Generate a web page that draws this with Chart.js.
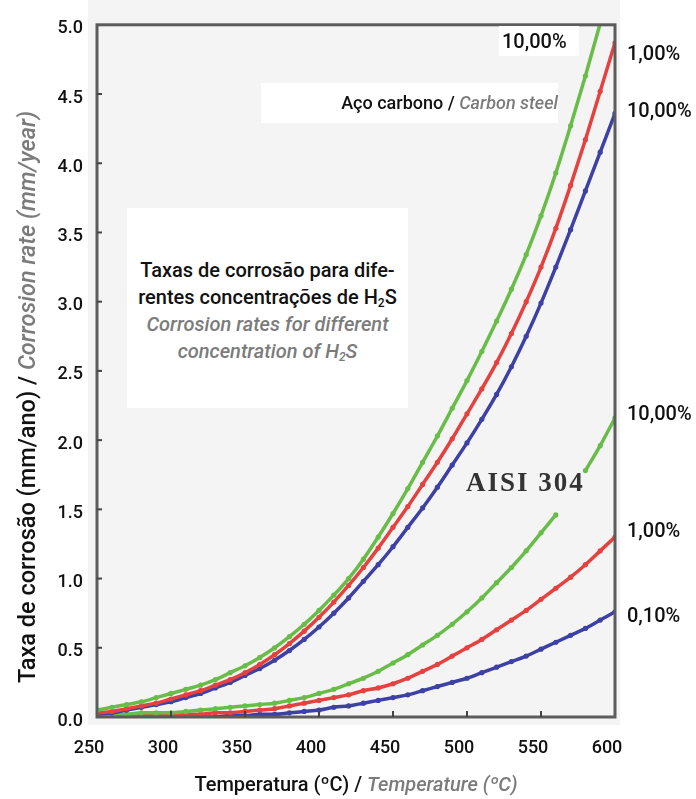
<!DOCTYPE html>
<html>
<head>
<meta charset="utf-8">
<script src="https://cdn.jsdelivr.net/npm/chart.js@4.4.1/dist/chart.umd.min.js"></script>
<style>
  html, body { margin: 0; padding: 0; background: #ffffff; }
  #wrap { position: relative; width: 696px; height: 799px; overflow: hidden; font-family: Roboto, "Liberation Sans", Arial, sans-serif; font-weight: 500; color: #111; }
  #bgband { position: absolute; left: 88px; top: 0; width: 532px; height: 725px; background: #f4f4f4; }
  canvas { position: absolute; left: 0; top: 0; }
  .lbl { position: absolute; white-space: nowrap; }
  .it { font-style: italic; color: #7b7b7b; }
  .box { position: absolute; background: #ffffff; }
  sub { font-size: 60%; vertical-align: -0.25em; line-height: 0; }
</style>
</head>
<body>
<div id="wrap">
  <div id="bgband"></div>
  <canvas id="c" width="696" height="799"></canvas>

  <div class="lbl" style="left:-323px; top:384px; width:700px; height:26px; line-height:26px; font-size:23.5px; text-align:center; transform:rotate(-90deg);">Taxa de corrosão (mm/ano) / <span class="it">Corrosion rate (mm/year)</span></div>
  <div class="lbl" style="left:56px; top:771px; width:600px; height:26px; line-height:26px; font-size:20px; text-align:center;">Temperatura (ºC) / <span class="it">Temperature (ºC)</span></div>

  <div class="box" style="left:261px; top:83px; width:297px; height:40px;"></div>
  <div class="lbl" style="left:261px; top:83px; width:297px; height:40px; line-height:40px; font-size:18px; text-align:right;">Aço carbono / <span class="it">Carbon steel</span></div>

  <div class="box" style="left:127px; top:208px; width:281px; height:200px;"></div>
  <div class="lbl" style="left:127px; top:257px; width:281px; line-height:27px; font-size:20px; text-align:center;">Taxas de corrosão para dife-<br>rentes concentrações de H<sub>2</sub>S<br><span class="it">Corrosion rates for different<br>concentration of H<sub>2</sub>S</span></div>

  <div class="box" style="left:499px; top:26px; width:80px; height:30px;"></div>
  <div class="lbl" style="left:502px; top:28px; line-height:26px; font-size:20px;">10,00%</div>

  <div class="lbl" style="left:627px; top:40px; line-height:26px; font-size:20px;">1,00%</div>
  <div class="lbl" style="left:627px; top:97px; line-height:26px; font-size:20px;">10,00%</div>
  <div class="lbl" style="left:627px; top:400px; line-height:26px; font-size:20px;">10,00%</div>
  <div class="lbl" style="left:627px; top:517px; line-height:26px; font-size:20px;">1,00%</div>
  <div class="lbl" style="left:627px; top:602px; line-height:26px; font-size:20px;">0,10%</div>

  <div class="lbl" style="left:466px; top:466px; line-height:32px; font-size:27px; font-weight:bold; letter-spacing:2px; font-family:'Liberation Serif','Times New Roman',serif; color:#333;">AISI 304</div>
</div>

<script>
// Temperatures (ºC)
const temps = [250,260,270,280,290,300,310,320,330,340,350,360,370,380,390,400,410,420,
               430,440,450,460,470,480,490,500,510,520,530,540,550,560,570,580,590,600];

// Carbon steel (upper group)
const carbonGreen = [0.05,0.07,0.09,0.11,0.14,0.17,0.20,0.23,0.27,0.32,0.37,0.43,0.50,0.58,0.67,0.77,0.88,1.00,
                     1.14,1.30,1.47,1.65,1.84,2.03,2.23,2.43,2.64,2.86,3.09,3.34,3.62,3.93,4.27,4.63,5.01,5.40];
const carbonRed   = [0.03,0.04,0.06,0.08,0.10,0.13,0.16,0.19,0.23,0.27,0.32,0.38,0.45,0.53,0.62,0.72,0.83,0.95,
                     1.08,1.22,1.37,1.52,1.68,1.84,2.01,2.19,2.37,2.56,2.77,3.00,3.25,3.53,3.84,4.17,4.52,4.87];
const carbonBlue  = [0.02,0.03,0.05,0.07,0.09,0.11,0.14,0.17,0.21,0.25,0.30,0.35,0.41,0.48,0.56,0.65,0.75,0.86,
                     0.98,1.10,1.23,1.37,1.51,1.66,1.82,1.98,2.15,2.33,2.53,2.75,2.99,3.25,3.52,3.80,4.08,4.36];

// AISI 304 (lower group)
const aisiGreen = [0.02,0.02,0.02,0.03,0.03,0.03,0.04,0.05,0.06,0.07,0.08,0.09,0.10,0.12,0.14,0.17,0.20,0.24,
                   0.28,0.33,0.39,0.45,0.52,0.59,0.67,0.76,0.86,0.97,1.08,1.20,1.33,1.46,null,1.78,1.96,2.16];
const aisiRed   = [0.00,0.00,0.00,0.01,0.01,0.01,0.02,0.02,0.03,0.03,0.04,0.05,0.06,0.08,0.10,0.12,0.14,0.16,
                   0.19,0.21,0.24,0.28,0.33,0.38,0.44,0.50,0.56,0.63,0.70,0.77,0.85,0.93,1.01,1.10,1.20,1.30];
const aisiBlue  = [0.00,0.00,0.00,0.00,0.00,0.00,0.00,0.00,0.00,0.01,0.01,0.02,0.02,0.03,0.04,0.05,0.07,0.08,
                   0.10,0.12,0.14,0.16,0.19,0.22,0.25,0.28,0.32,0.36,0.40,0.44,0.49,0.54,0.59,0.64,0.70,0.76];

const xTicks = [250,300,350,400,450,500,550,600];
const yTicks = [0,0.5,1,1.5,2,2.5,3,3.5,4,4.5,5];

const GREEN = '#68bd48', RED = '#e5413f', BLUE = '#3d40a4';

function series(vals, color) {
  return {
    data: temps.map((t, i) => ({ x: t, y: vals[i] })),
    borderColor: color,
    backgroundColor: color,
    borderWidth: 3.5,
    pointRadius: 2.6,
    pointBorderWidth: 0,
    pointBackgroundColor: color,
    cubicInterpolationMode: 'monotone',
    spanGaps: false,
    fill: false
  };
}

const framePlugin = {
  id: 'frame',
  beforeDraw(chart) {
    const { ctx, chartArea: a } = chart;
    ctx.save();
    ctx.fillStyle = '#f4f4f4';
    ctx.fillRect(a.left, a.top, a.right - a.left, a.bottom - a.top);
    ctx.restore();
  },
  afterDatasetsDraw(chart) {
    const { ctx, chartArea: a, scales } = chart;
    ctx.save();
    ctx.strokeStyle = '#5c5c5c';
    ctx.lineWidth = 3;
    ctx.strokeRect(a.left, a.top, a.right - a.left, a.bottom - a.top);
    ctx.lineWidth = 2;
    ctx.strokeStyle = '#444';
    yTicks.slice(1, -1).forEach(v => {
      const y = scales.y.getPixelForValue(v);
      ctx.beginPath(); ctx.moveTo(a.left, y); ctx.lineTo(a.left + 5, y); ctx.stroke();
    });
    xTicks.slice(1, -1).forEach(v => {
      const x = scales.x.getPixelForValue(v);
      ctx.beginPath(); ctx.moveTo(x, a.bottom); ctx.lineTo(x, a.bottom - 6); ctx.stroke();
    });
    ctx.restore();
  }
};

Chart.defaults.font.family = 'Roboto, "Liberation Sans", Arial, sans-serif';
Chart.defaults.font.weight = 500;

new Chart(document.getElementById('c'), {
  type: 'line',
  data: {
    datasets: [
      series(carbonGreen, GREEN),
      series(carbonRed, RED),
      series(carbonBlue, BLUE),
      series(aisiGreen, GREEN),
      series(aisiRed, RED),
      series(aisiBlue, BLUE)
    ]
  },
  options: {
    responsive: false,
    devicePixelRatio: 1,
    animation: false,
    layout: { padding: { top: 17, right: 81, left: 0, bottom: 0 } },
    plugins: { legend: { display: false }, tooltip: { enabled: false } },
    scales: {
      x: {
        type: 'linear', min: 250, max: 600,
        afterBuildTicks: s => { s.ticks = xTicks.map(v => ({ value: v })); },
        afterFit: s => { s.height = 82; },
        grid: { display: false, drawTicks: false },
        border: { display: false },
        ticks: { padding: 21, labelOffset: -8, color: '#111', font: { size: 18 }, maxRotation: 0, autoSkip: false,
                 callback: v => String(v) }
      },
      y: {
        min: 0, max: 5,
        afterBuildTicks: s => { s.ticks = yTicks.map(v => ({ value: v })); },
        afterFit: s => { s.width = 97; },
        grid: { display: false, drawTicks: false },
        border: { display: false },
        ticks: { padding: 14, labelOffset: 4, color: '#111', font: { size: 18 }, autoSkip: false,
                 callback: v => Number(v).toFixed(1) }
      }
    }
  },
  plugins: [framePlugin]
});
</script>
</body>
</html>
